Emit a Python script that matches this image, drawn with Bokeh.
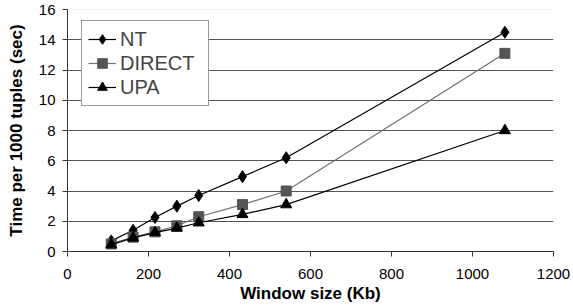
from bokeh.plotting import figure
from bokeh.models import FixedTicker, Span, Legend, LegendItem, Range1d
from bokeh.embed import file_html
from bokeh.resources import INLINE

window_kb = [108, 162, 216, 270, 324, 432, 540, 1080]
nt = [0.7, 1.4, 2.25, 3.0, 3.7, 4.95, 6.2, 14.5]
direct = [0.5, 0.95, 1.3, 1.7, 2.3, 3.1, 4.0, 13.1]
upa = [0.45, 0.9, 1.25, 1.55, 1.9, 2.45, 3.1, 8.0]
x_ticks = [0, 200, 400, 600, 800, 1000, 1200]
y_ticks = [0, 2, 4, 6, 8, 10, 12, 14, 16]
grid_ticks = [2, 4, 6, 8, 10, 12, 14]

FONT = "Liberation Sans"

p = figure(width=573, height=305, output_backend="svg", toolbar_location=None,
           x_range=Range1d(0, 1200), y_range=Range1d(0, 16),
           min_border_left=67, min_border_right=20, min_border_top=9, min_border_bottom=54)
p.outline_line_color = None
p.background_fill_color = "white"

p.xaxis.ticker = FixedTicker(ticks=x_ticks)
p.yaxis.ticker = FixedTicker(ticks=y_ticks)
p.xgrid.visible = False
p.ygrid.ticker = FixedTicker(ticks=grid_ticks)
p.ygrid.grid_line_color = "#555555"
p.ygrid.grid_line_width = 1

p.add_layout(Span(location=16, dimension="width", line_color="#e6e6e6", line_width=1))

for ax in (p.xaxis[0], p.yaxis[0]):
    ax.axis_line_color = "#333333"
    ax.major_tick_line_color = "#333333"
    ax.major_tick_in = 0
    ax.major_tick_out = 5
    ax.minor_tick_line_color = None
    ax.major_label_text_font = FONT
    ax.major_label_text_font_size = "15px"
    ax.major_label_text_color = "black"
    ax.axis_label_text_font = FONT
    ax.axis_label_text_font_size = "17px"
    ax.axis_label_text_font_style = "bold"
    ax.axis_label_text_color = "black"

p.xaxis.axis_label = "Window size (Kb)"
p.yaxis.axis_label = "Time per 1000 tuples (sec)"
p.xaxis.major_label_standoff = 12
p.xaxis.axis_label_standoff = 2
p.yaxis.major_label_standoff = 7
p.yaxis.axis_label_standoff = 10

l1 = p.line(window_kb, nt, line_color="black", line_width=1.2)
m1 = p.scatter(window_kb, nt, marker="diamond", size=12,
               fill_color="black", line_color="black")
l2 = p.line(window_kb, direct, line_color="#707070", line_width=1.2)
m2 = p.scatter(window_kb, direct, marker="square", size=10,
               fill_color="#555555", line_color="#555555")
l3 = p.line(window_kb, upa, line_color="black", line_width=1.2)
m3 = p.scatter(window_kb, upa, marker="triangle", size=11,
               fill_color="black", line_color="black")

legend = Legend(items=[
    LegendItem(label="NT", renderers=[l1, m1]),
    LegendItem(label="DIRECT", renderers=[l2, m2]),
    LegendItem(label="UPA", renderers=[l3, m3]),
], location=(14, 145))
legend.label_text_font = FONT
legend.label_text_font_size = "20px"
legend.label_standoff = 4
legend.label_width = 82
legend.glyph_width = 28
legend.glyph_height = 24
legend.label_height = 24
legend.spacing = 0
legend.padding = 6
legend.margin = 0
legend.border_line_color = "#333333"
legend.border_line_width = 1
legend.background_fill_alpha = 1
p.add_layout(legend, "center")

open("out.html", "w").write(file_html(p, INLINE))
